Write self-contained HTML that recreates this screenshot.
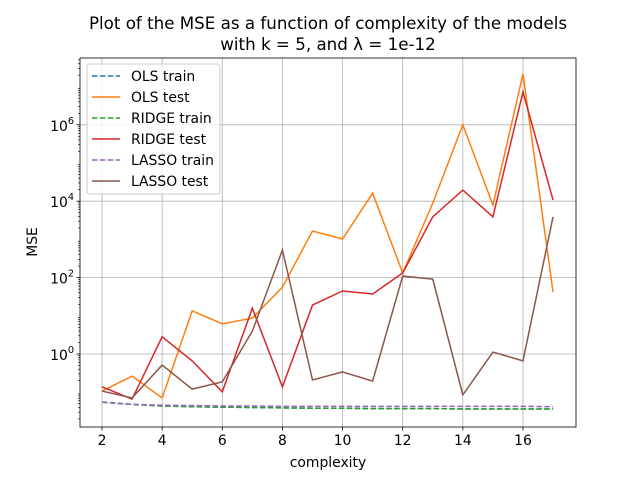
<!DOCTYPE html>
<html><head><meta charset="utf-8"><style>body{margin:0;background:#fff}svg{font-family:"DejaVu Sans","Liberation Sans",sans-serif}</style></head>
<body>
<svg id="c" width="640" height="480"></svg>
<script>
const complexity=[2,3,4,5,6,7,8,9,10,11,12,13,14,15,16,17];
const olsTrainLog=[-1.26,-1.32,-1.36,-1.38,-1.39,-1.40,-1.41,-1.42,-1.42,-1.43,-1.43,-1.43,-1.44,-1.44,-1.44,-1.44];
const olsTestLog=[-0.97,-0.58,-1.15,1.13,0.79,0.94,1.75,3.22,3.01,4.21,2.12,3.95,6.0,3.9,7.33,1.62];
const ridgeTrainLog=[-1.26,-1.32,-1.36,-1.38,-1.39,-1.40,-1.41,-1.42,-1.42,-1.43,-1.43,-1.43,-1.44,-1.44,-1.44,-1.44];
const ridgeTestLog=[-0.86,-1.18,0.45,-0.18,-0.99,1.2,-0.86,1.28,1.65,1.57,2.12,3.59,4.29,3.59,6.86,4.03];
const lassoTrainLog=[-1.26,-1.32,-1.34,-1.35,-1.36,-1.36,-1.37,-1.37,-1.37,-1.37,-1.37,-1.37,-1.37,-1.37,-1.37,-1.38];
const lassoTestLog=[-0.97,-1.15,-0.29,-0.92,-0.73,0.6,2.72,-0.68,-0.47,-0.71,2.04,1.96,-1.07,0.05,-0.18,3.59];
const xTicks=[2,4,6,8,10,12,14,16];
const yTicks=[0,2,4,6];
const series=[
 {name:"OLS train",d:olsTrainLog,c:"#1f77b4",dash:true},
 {name:"OLS test",d:olsTestLog,c:"#ff7f0e"},
 {name:"RIDGE train",d:ridgeTrainLog,c:"#2ca02c",dash:true},
 {name:"RIDGE test",d:ridgeTestLog,c:"#d62728"},
 {name:"LASSO train",d:lassoTrainLog,c:"#9467bd",dash:true},
 {name:"LASSO test",d:lassoTestLog,c:"#8c564b"}];
const L=80,R=576,T=58,B=427;
const X=v=>102+(v-2)*30.07;
const Y=l=>354-38.2*l;
const svg=document.getElementById('c');const NS="http://www.w3.org/2000/svg";
function el(t,a,p,txt){const e=document.createElementNS(NS,t);for(const k in a)e.setAttribute(k,a[k]);if(txt!==undefined)e.textContent=txt;(p||svg).appendChild(e);return e;}
xTicks.forEach(v=>{const g=el('line',{x1:X(v),x2:X(v),y1:T,y2:B,stroke:'#b0b0b0','stroke-width':0.8});

el('line',{x1:X(v),x2:X(v),y1:B,y2:B+3.5,stroke:'#000','stroke-width':0.8});
const tx=el('text',{x:X(v),y:B+18,'font-size':13.9,'text-anchor':'middle'},null,String(v));
});
for(let d=-2;d<8;d++){for(let m=2;m<10;m++){const l=d+Math.log10(m);const y=Y(l);if(y<T||y>B)continue;el('line',{x1:L-2,x2:L,y1:y,y2:y,stroke:'#000','stroke-width':0.6});}}
yTicks.forEach(v=>{const y=Y(v);const g=el('line',{x1:L,x2:R,y1:y,y2:y,stroke:'#b0b0b0','stroke-width':0.8});

el('line',{x1:L-3.5,x2:L,y1:y,y2:y,stroke:'#000','stroke-width':0.8});
const tx=el('text',{x:L-6,y:y+6,'font-size':13.9,'text-anchor':'end'});

el('tspan',{},tx,'10');el('tspan',{dy:-7,'font-size':9.7},tx,String(v));});
series.forEach(s=>{const p=el('polyline',{points:complexity.map((c,i)=>X(c)+','+Y(s.d[i])).join(' '),fill:'none',stroke:s.c,'stroke-width':1.5,'stroke-dasharray':s.dash?'5.5,2.4':'none'});
});
el('rect',{x:L,y:T,width:R-L,height:B-T,fill:'none',stroke:'#000','stroke-width':0.8});
const lg=el('g',{});
el('rect',{x:87,y:64,width:133,height:130,rx:3,fill:'#fff','fill-opacity':0.8,stroke:'#ccc'},lg);
series.forEach((s,i)=>{const y=76+i*21;const g=el('g',{},lg);
el('line',{x1:92,x2:120,y1:y,y2:y,stroke:s.c,'stroke-width':1.5,'stroke-dasharray':s.dash?'5.5,2.4':'none'},g);
el('text',{x:131,y:y+5,'font-size':13.9},g,s.name);});
const t1=el('text',{x:328,y:29,'font-size':16.7,'text-anchor':'middle'},null,'Plot of the MSE as a function of complexity of the models');

const t2=el('text',{x:328,y:50,'font-size':16.7,'text-anchor':'middle'},null,'with k = 5, and \u03bb = 1e-12');

const xl=el('text',{x:328,y:467,'font-size':13.9,'text-anchor':'middle'},null,'complexity');

const yl=el('text',{x:0,y:0,'font-size':13.9,'text-anchor':'middle',transform:'translate(37,242) rotate(-90)'},null,'MSE');

</script>
</body></html>
